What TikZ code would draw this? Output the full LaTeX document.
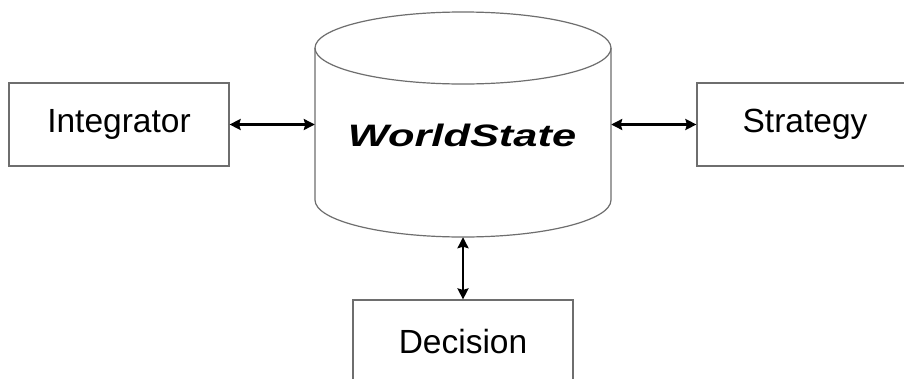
\documentclass[tikz,border=0pt]{standalone}
\usepackage{fontspec}
\setmainfont{Liberation Sans}
\usetikzlibrary{arrows.meta}
\definecolor{edgegray}{HTML}{6E6E6E}
\tikzset{
  x=1pt, y=-1pt,
  module/.style={draw=edgegray, line width=1.2pt, fill=white, inner sep=0pt,
    minimum width=220pt, minimum height=83pt, font=\fontsize{33.5}{40}\selectfont},
  link/.style={line width=2.6pt, {Stealth[length=11pt,width=11pt,inset=1.5pt]}-{Stealth[length=11pt,width=11pt,inset=1.5pt]}},
  hidden/.style={inner sep=0pt, draw=none}
}
\begin{document}
\begin{tikzpicture}
  \useasboundingbox (0,0) rectangle (904,378);
  \clip (0,0) rectangle (904,378);
  \fill[white] (0,0) rectangle (904,378);

  % central store drawn as a cylinder
  \draw[edgegray, line width=1.2pt, fill=white]
    (315,48) -- (315,200) arc[start angle=180, end angle=0, x radius=148, y radius=37]
    -- (611,48);
  \draw[edgegray, line width=1.2pt] (463,48) ellipse[x radius=148, y radius=36];
  \node[hidden, minimum width=296pt, minimum height=225pt] (ws) at (463,124.5) {};
  \node[hidden, font=\fontsize{31}{36}\selectfont\bfseries\itshape] (wslabel) at (462,135)
    {\scalebox{1.40}[1]{WorldState}};

  % modules around the store
  \node[module] (int) at (119,124.5) {Integrator};
  \node[module, minimum width=216pt] (str) at (805,124.5) {Strategy};
  \node[module] (dec) at (463,341.5) {Decision};

  % two-way links
  \draw[link] (int.east) -- (ws.west);
  \draw[link] (ws.east) -- (str.west);
  \draw[link] (ws.south) -- (dec.north);
\end{tikzpicture}
\end{document}
